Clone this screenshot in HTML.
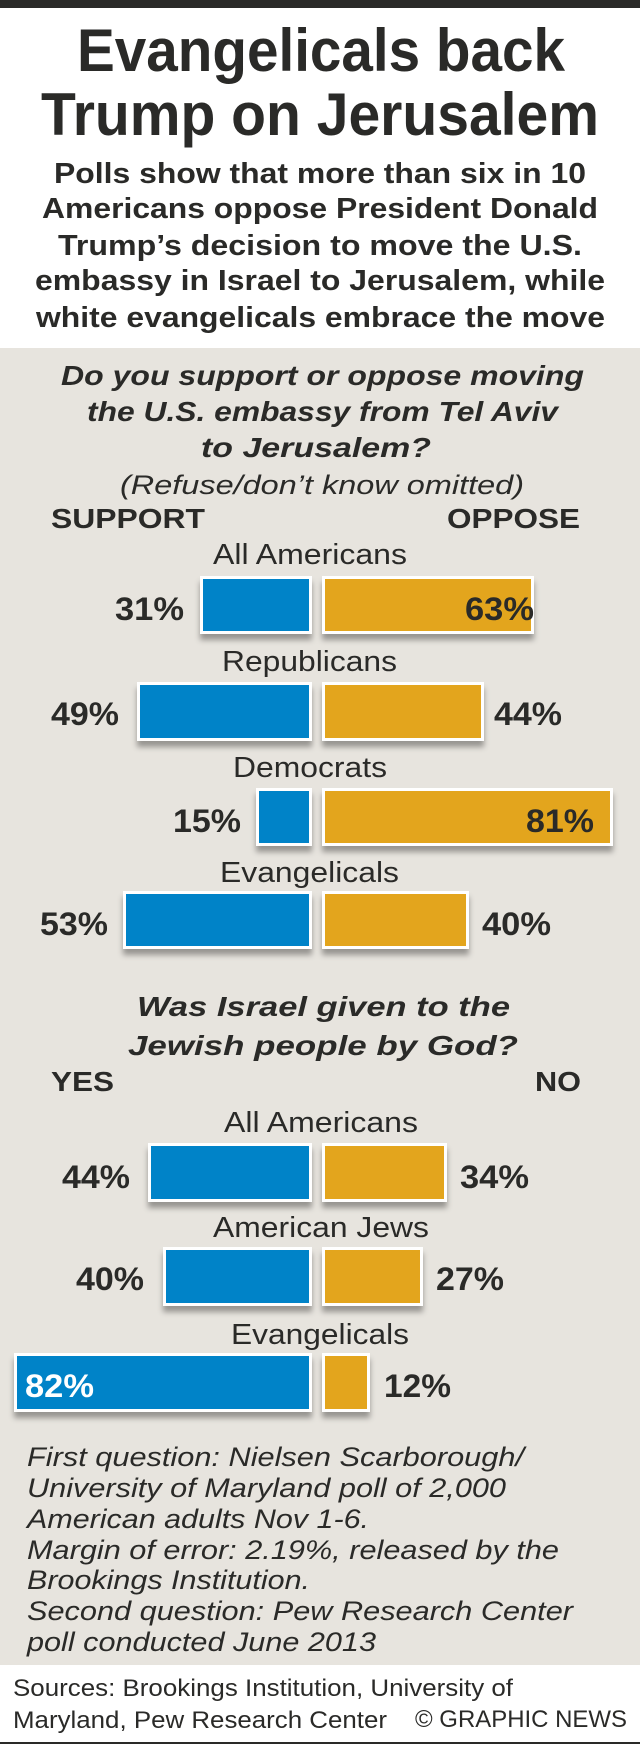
<!DOCTYPE html>
<html><head><meta charset="utf-8"><style>html,body{margin:0;padding:0;background:#fff}svg{display:block}</style></head>
<body>
<svg width="640" height="1756" viewBox="0 0 640 1756" xmlns="http://www.w3.org/2000/svg" font-family="Liberation Sans, Arial, sans-serif" fill="#2a2a28">
<defs>
<filter id="sh" x="-10%" y="-20%" width="120%" height="160%">
<feDropShadow dx="0" dy="6" stdDeviation="3" flood-color="#000" flood-opacity="0.35"/>
</filter>
</defs>
<rect x="0" y="0" width="640" height="8" fill="#2a2a28"/>
<rect x="0" y="348" width="640" height="1317" fill="#e7e4de"/>
<rect x="0" y="1742" width="640" height="2" fill="#2a2a28"/>

<g font-weight="bold" font-size="60">
<text x="77" y="71" textLength="488" lengthAdjust="spacingAndGlyphs">Evangelicals back</text>
<text x="41" y="135" textLength="558" lengthAdjust="spacingAndGlyphs">Trump on Jerusalem</text>
</g>
<g font-weight="bold" font-size="29">
<text x="54" y="183" textLength="532" lengthAdjust="spacingAndGlyphs">Polls show that more than six in 10</text>
<text x="42" y="218" textLength="556" lengthAdjust="spacingAndGlyphs">Americans oppose President Donald</text>
<text x="58" y="255" textLength="524" lengthAdjust="spacingAndGlyphs">Trump’s decision to move the U.S.</text>
<text x="35" y="290" textLength="570" lengthAdjust="spacingAndGlyphs">embassy in Israel to Jerusalem, while</text>
<text x="36" y="327" textLength="569" lengthAdjust="spacingAndGlyphs">white evangelicals embrace the move</text>
</g>

<g font-weight="bold" font-style="italic" font-size="28">
<text x="61" y="385" textLength="523" lengthAdjust="spacingAndGlyphs">Do you support or oppose moving</text>
<text x="87" y="421" textLength="471" lengthAdjust="spacingAndGlyphs">the U.S. embassy from Tel Aviv</text>
<text x="201" y="457" textLength="230" lengthAdjust="spacingAndGlyphs">to Jerusalem?</text>
<text x="137" y="1016" textLength="373" lengthAdjust="spacingAndGlyphs">Was Israel given to the</text>
<text x="128" y="1055" textLength="390" lengthAdjust="spacingAndGlyphs">Jewish people by God?</text>
</g>
<text x="120" y="494" font-style="italic" font-size="27" textLength="404" lengthAdjust="spacingAndGlyphs">(Refuse/don’t know omitted)</text>

<g font-weight="bold" font-size="28">
<text x="51" y="528" textLength="154" lengthAdjust="spacingAndGlyphs">SUPPORT</text>
<text x="447" y="528" textLength="133" lengthAdjust="spacingAndGlyphs">OPPOSE</text>
<text x="51" y="1091" textLength="63" lengthAdjust="spacingAndGlyphs">YES</text>
<text x="535" y="1091" textLength="46" lengthAdjust="spacingAndGlyphs">NO</text>
</g>

<g font-size="29">
<text x="213" y="564" textLength="194" lengthAdjust="spacingAndGlyphs">All Americans</text>
<text x="222" y="671" textLength="175" lengthAdjust="spacingAndGlyphs">Republicans</text>
<text x="233" y="777" textLength="154" lengthAdjust="spacingAndGlyphs">Democrats</text>
<text x="220" y="882" textLength="179" lengthAdjust="spacingAndGlyphs">Evangelicals</text>
<text x="224" y="1132" textLength="194" lengthAdjust="spacingAndGlyphs">All Americans</text>
<text x="213" y="1237" textLength="216" lengthAdjust="spacingAndGlyphs">American Jews</text>
<text x="231" y="1344" textLength="178" lengthAdjust="spacingAndGlyphs">Evangelicals</text>
</g>

<g filter="url(#sh)" fill="#fff">
<rect x="200" y="576" width="112" height="58"/><rect x="322" y="576" width="212" height="58"/>
<rect x="137" y="682" width="175" height="59"/><rect x="322" y="682" width="162" height="59"/>
<rect x="256" y="788" width="56" height="58"/><rect x="322" y="788" width="291" height="58"/>
<rect x="123" y="891" width="189" height="58"/><rect x="322" y="891" width="147" height="58"/>
<rect x="148" y="1143" width="164" height="59"/><rect x="322" y="1143" width="125" height="59"/>
<rect x="163" y="1247" width="149" height="59"/><rect x="322" y="1247" width="101" height="59"/>
<rect x="14" y="1353" width="298" height="59"/><rect x="322" y="1353" width="48" height="59"/>
</g>
<g fill="#0083c8">
<rect x="203" y="579" width="106" height="52"/>
<rect x="140" y="685" width="169" height="53"/>
<rect x="259" y="791" width="50" height="52"/>
<rect x="126" y="894" width="183" height="52"/>
<rect x="151" y="1146" width="158" height="53"/>
<rect x="166" y="1250" width="143" height="53"/>
<rect x="17" y="1356" width="292" height="53"/>
</g>
<g fill="#e3a51d">
<rect x="325" y="579" width="206" height="52"/>
<rect x="325" y="685" width="156" height="53"/>
<rect x="325" y="791" width="285" height="52"/>
<rect x="325" y="894" width="141" height="52"/>
<rect x="325" y="1146" width="119" height="53"/>
<rect x="325" y="1250" width="95" height="53"/>
<rect x="325" y="1356" width="42" height="53"/>
</g>

<g font-weight="bold" font-size="32">
<text x="115" y="620" textLength="69" lengthAdjust="spacingAndGlyphs">31%</text>
<text x="465" y="620" textLength="69" lengthAdjust="spacingAndGlyphs">63%</text>
<text x="51" y="725" textLength="68" lengthAdjust="spacingAndGlyphs">49%</text>
<text x="494" y="725" textLength="68" lengthAdjust="spacingAndGlyphs">44%</text>
<text x="173" y="832" textLength="68" lengthAdjust="spacingAndGlyphs">15%</text>
<text x="526" y="832" textLength="68" lengthAdjust="spacingAndGlyphs">81%</text>
<text x="40" y="935" textLength="68" lengthAdjust="spacingAndGlyphs">53%</text>
<text x="482" y="935" textLength="69" lengthAdjust="spacingAndGlyphs">40%</text>
<text x="62" y="1188" textLength="68" lengthAdjust="spacingAndGlyphs">44%</text>
<text x="460" y="1188" textLength="69" lengthAdjust="spacingAndGlyphs">34%</text>
<text x="76" y="1290" textLength="68" lengthAdjust="spacingAndGlyphs">40%</text>
<text x="436" y="1290" textLength="68" lengthAdjust="spacingAndGlyphs">27%</text>
<text x="25" y="1397" textLength="69" lengthAdjust="spacingAndGlyphs" fill="#fff">82%</text>
<text x="384" y="1397" textLength="67" lengthAdjust="spacingAndGlyphs">12%</text>
</g>

<g font-style="italic" font-size="27">
<text x="27" y="1466" textLength="497" lengthAdjust="spacingAndGlyphs">First question: Nielsen Scarborough/</text>
<text x="27" y="1497" textLength="479" lengthAdjust="spacingAndGlyphs">University of Maryland poll of 2,000</text>
<text x="27" y="1528" textLength="342" lengthAdjust="spacingAndGlyphs">American adults Nov 1-6.</text>
<text x="27" y="1559" textLength="532" lengthAdjust="spacingAndGlyphs">Margin of error: 2.19%, released by the</text>
<text x="27" y="1589" textLength="283" lengthAdjust="spacingAndGlyphs">Brookings Institution.</text>
<text x="27" y="1620" textLength="546" lengthAdjust="spacingAndGlyphs">Second question: Pew Research Center</text>
<text x="27" y="1651" textLength="349" lengthAdjust="spacingAndGlyphs">poll conducted June 2013</text>
</g>

<g font-size="24">
<text x="13" y="1696" textLength="500" lengthAdjust="spacingAndGlyphs">Sources: Brookings Institution, University of</text>
<text x="13" y="1728" textLength="374" lengthAdjust="spacingAndGlyphs">Maryland, Pew Research Center</text>
<text x="415" y="1727" textLength="212" lengthAdjust="spacingAndGlyphs">© GRAPHIC NEWS</text>
</g>
</svg>
</body></html>
